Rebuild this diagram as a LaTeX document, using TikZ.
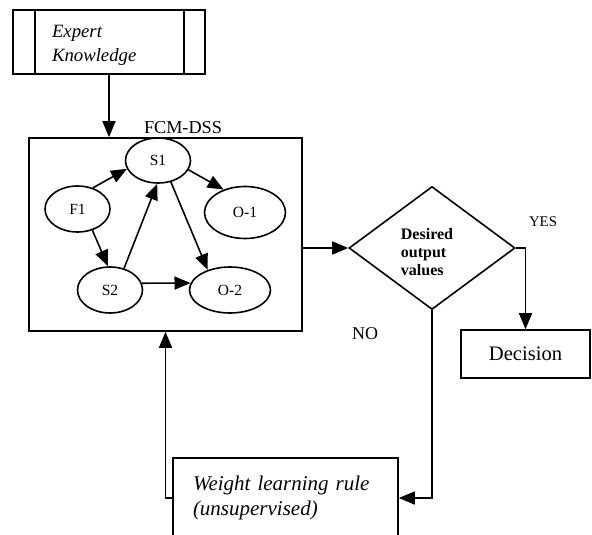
\documentclass[tikz,border=0pt]{standalone}
\usepackage{fontspec}
\setmainfont{Liberation Serif}
\usetikzlibrary{shapes.geometric,arrows.meta,positioning}

\begin{document}
\begin{tikzpicture}[x=1pt, y=-1pt,
    box/.style={draw, line width=1.6pt, inner sep=0pt},
    state/.style={ellipse, draw, line width=1.6pt, inner sep=0pt, font=\fontsize{15.5}{18}\selectfont},
    arr/.style={-{Triangle[length=16pt, width=13pt]}, line width=1.6pt}]

    \path[use as bounding box, clip] (0,0) rectangle (592,535);

    % Expert knowledge
    \node[box, minimum width=192pt, minimum height=64pt, inner xsep=39pt, text width=114pt, align=left,
          font=\fontsize{18.75}{24}\selectfont\itshape] (ek) at (109,42) {\rule{0pt}{18pt}Expert\\Knowledge};
    \draw[line width=1.6pt] ([xshift=23pt]ek.north west) -- ([xshift=23pt]ek.south west);
    \draw[line width=1.6pt] ([xshift=-22pt]ek.north east) -- ([xshift=-22pt]ek.south east);

    % FCM-DSS
    \node[box, minimum width=273pt, minimum height=193pt] (fcm) at (165.5,234.5) {};
    \node[font=\fontsize{18.2}{20}\selectfont, anchor=base] (fcmlbl) at (183,133) {FCM-DSS};

    % Concepts
    \node[state, minimum width=65pt, minimum height=45pt] (S1) at (158,160.5) {S1};
    \node[state, minimum width=65pt, minimum height=46pt] (F1) at (77.5,209) {F1};
    \node[state, minimum width=81pt, minimum height=52pt] (O1) at (245,212.5) {O-1};
    \node[state, minimum width=65pt, minimum height=46pt] (S2) at (110,290) {S2};
    \node[state, minimum width=81pt, minimum height=46pt] (O2) at (230,290) {O-2};

    \draw[arr] (F1.54) -- (S1.195);
    \draw[arr] (F1.-55) -- (S2.95);
    \draw[arr] (S2.57) -- (S1.-92);
    \draw[arr] (S1.-17) -- (O1.133);
    \draw[arr] (S1.-59) -- (O2.138);
    \draw[arr] (S2.12) -- (O2.170);

    % Test
    \node[diamond, draw, line width=1.6pt, inner sep=0pt, minimum width=166pt, minimum height=123pt] (dec) at (432,248) {};
    \node[font=\fontsize{16}{18}\selectfont\bfseries, align=left, inner sep=0pt] (dectxt) at (427,252) {Desired\\output\\values};

    % Decision
    \node[box, minimum width=129pt, minimum height=48pt, font=\fontsize{20.6}{24}\selectfont] (decision) at (525.5,354) {Decision};
    \node[font=\fontsize{14.8}{17}\selectfont] (yes) at (543,221.5) {YES};
    \node[font=\fontsize{18}{20}\selectfont] (no) at (365,333.5) {NO};

    % Learning
    \node[box, minimum width=225pt, minimum height=80pt, inner xsep=20pt, text width=185pt, align=left,
          font=\fontsize{21}{25}\selectfont\itshape] (wlr) at (285.5,498) {Weight learning rule\\(unsupervised)};

    \draw[arr] (ek.south) -- (ek.south |- fcm.north);
    \draw[arr] (dec.west -| fcm.east) -- (dec.west);
    \draw[arr] (dec.east) -| (decision.north);
    \draw[arr] (dec.south) |- (wlr.east);
    \draw[arr] (wlr.west) -| (fcm.south);
\end{tikzpicture}
\end{document}
